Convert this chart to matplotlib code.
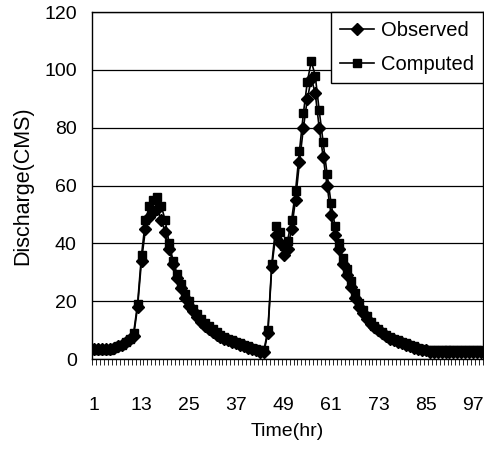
import numpy as np
import matplotlib
matplotlib.use('Agg')
import matplotlib.pyplot as plt

plt.rcParams['font.family'] = ['Liberation Sans', 'DejaVu Sans']

# hourly discharge (CMS), hours 1..99
observed = [3.5, 3.5, 3.5, 3.5, 3.5, 4, 4.5, 5, 6, 7,
            8, 18, 34, 45, 49, 51, 52, 48, 44, 38,
            33, 28, 24.5, 21, 18.5, 16.5, 14.5, 13, 11.5, 10.5,
            9.5, 8.5, 7.5, 7, 6.5, 6, 5.5, 5, 4.5, 4,
            3.5, 3, 2.5, 2.5, 9, 32, 43, 40, 36, 38,
            45, 55, 68, 80, 90, 97, 92, 80, 70, 60,
            50, 43, 38, 33, 29, 25, 21, 18, 16, 14,
            12, 11, 10, 9, 8, 7, 6.5, 6, 5.5, 5,
            4.5, 4, 3.5, 3, 3, 2.5, 2.5, 2.5, 2.5, 2.5,
            2.5, 2.5, 2.5, 2.5, 2.5, 2.5, 2.5, 2.5, 2.5]
computed = [3, 3, 3, 3, 3, 4, 4.5, 5, 6, 7,
            9, 19, 36, 48, 53, 55, 56, 53, 48, 40,
            34, 29.5, 26, 22.5, 20, 17.5, 15.5, 14, 12.5, 11.5,
            10.5, 9.5, 8.5, 7.5, 7, 6.5, 6, 5.5, 5, 4.5,
            4, 3.5, 3, 3, 10, 33, 46, 44, 39, 41,
            48, 58, 72, 85, 96, 103, 98, 86, 75, 64,
            54, 46, 40, 35, 31, 27, 23, 19.5, 17, 15,
            13, 11.5, 10.5, 9.5, 8.5, 7.5, 7, 6.5, 6, 5.5,
            5, 4.5, 4, 3.5, 3, 3, 3, 3, 3, 3,
            3, 3, 3, 3, 3, 3, 3, 3, 3]
hours = np.arange(1, len(observed) + 1)
x_ticks = [1, 13, 25, 37, 49, 61, 73, 85, 97]
y_ticks = [0, 20, 40, 60, 80, 100, 120]

fig = plt.figure(figsize=(4.85, 4.5), dpi=100)
ax = fig.add_axes([0.19, 0.202, 0.806, 0.771])

ax.plot(hours, observed, color='black', lw=1.2, marker='D', ms=6.5,
        mfc='black', mec='black', label='Observed')
ax.plot(hours, computed, color='black', lw=1.2, marker='s', ms=6,
        mfc='black', mec='black', label='Computed')

ax.set_xlim(0.5, len(hours) + 0.5)
ax.set_ylim(0, 120)
ax.set_xticks(x_ticks)
ax.set_xticks(np.arange(0.5, len(hours) + 1, 1.0), minor=True)
ax.set_yticks(y_ticks)
ax.yaxis.grid(True, color='black', lw=0.9)
ax.set_axisbelow(True)

ax.tick_params(axis='x', which='major', length=0, pad=27, labelsize=14)
ax.tick_params(axis='x', which='minor', length=4, width=0.6, direction='out')
ax.tick_params(axis='y', length=0, pad=11, labelsize=14)
for s in ax.spines.values():
    s.set_color('black')
    s.set_linewidth(1.0)

ax.set_xlabel('Time(hr)', fontsize=14, labelpad=7)
ax.set_ylabel('Discharge(CMS)', fontsize=15.5, labelpad=8)

leg = ax.legend(loc='upper right', fontsize=14.5, frameon=True, fancybox=False,
                edgecolor='black', borderaxespad=0, handlelength=1.7,
                handletextpad=0.35, borderpad=0.45, labelspacing=0.75)
leg.get_frame().set_linewidth(1.0)
leg.get_frame().set_alpha(1)

fig.savefig('out.png', dpi=100)
